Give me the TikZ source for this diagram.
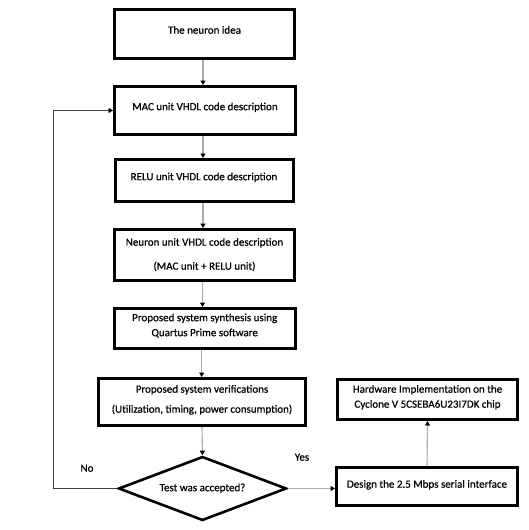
\documentclass[tikz,border=0pt]{standalone}
\usepackage{fontspec}
\setmainfont{Carlito}[FakeBold=0.6]
\usetikzlibrary{shapes.geometric,arrows.meta}
\newcommand{\lifted}[2]{\raisebox{#1}[\height][\depth]{\begin{tabular}{@{}c@{}}#2\end{tabular}}}
\begin{document}
\begin{tikzpicture}[x=1pt,y=-1pt,
  every node/.style={font=\fontsize{11}{13.5}\selectfont, inner sep=0pt, align=center},
  box/.style={draw=black, line width=3pt, rectangle},
  decision/.style={draw=black, line width=2.6pt, diamond, shape aspect=2.6},
  flow/.style={draw=gray!65, line width=1.1pt, -{Triangle[black,length=4.5pt,width=5pt]}},
  back/.style={draw=gray!50!black, line width=0.9pt, -{Triangle[black,length=4.5pt,width=5pt]}},
  lbl/.style={font=\fontsize{11}{13.5}\selectfont}
]
\useasboundingbox (0,0) rectangle (529,530);
\fill[white] (0,0) rectangle (529,530);

\node[box, minimum width=180pt, minimum height=49pt] (n1) at (204.5,34) {\lifted{3pt}{The neuron idea}};
\node[box, minimum width=181pt, minimum height=48pt] (n2) at (205,110.5) {\lifted{3pt}{MAC unit VHDL code description}};
\node[box, minimum width=178pt, minimum height=42pt] (n3) at (204,180.5) {\lifted{3pt}{RELU unit VHDL code description}};
\node[box, minimum width=180pt, minimum height=51pt] (n4) at (204.5,255) {\lifted{0pt}{Neuron unit VHDL code description\\[10.5pt](MAC unit + RELU unit)}};
\node[box, minimum width=181pt, minimum height=40pt] (n5) at (204.7,328.5) {\lifted{2.5pt}{Proposed system synthesis using\\[1.5pt]Quartus Prime software}};
\node[box, minimum width=207pt, minimum height=47pt] (n6) at (202,402) {\lifted{2pt}{Proposed system verifications\\[6.5pt](Utilization, timing, power consumption)}};
\node[decision, minimum width=168pt, minimum height=64pt] (d) at (202.5,488.5) {\lifted{0pt}{Test was accepted?}};
\node[box, minimum width=180pt, minimum height=40pt] (hw) at (427.5,399.5) {\lifted{2pt}{Hardware Implementation on the\\[1.5pt]Cyclone V 5CSEBA6U23I7DK chip}};
\node[box, minimum width=181pt, minimum height=38pt] (ds) at (427,486.5) {\lifted{1.5pt}{Design the 2.5 Mbps serial interface}};

\coordinate (nl) at (53,488.5);
\node[lbl] (no) at (87,469) {\lifted{0pt}{No}};
\node[lbl] (yes) at (302,458) {\lifted{0pt}{Yes}};

\draw[flow] ([xshift=-1.5pt]n1.south) -- ([xshift=-1.5pt]n1.south |- n2.north);
\draw[flow] ([xshift=-2pt]n2.south) -- ([xshift=-2pt]n2.south |- n3.north);
\draw[flow] ([xshift=-1pt]n3.south) -- ([xshift=-1pt]n3.south |- n4.north);
\draw[flow] ([xshift=-2pt]n4.south) -- ([xshift=-2pt]n4.south |- n5.north);
\draw[flow] ([xshift=-3pt]n5.south) -- ([xshift=-3pt]n5.south |- n6.north);
\draw[flow] (n6.south) -- (d.north);
\draw[flow] (d.east) -- (d.east -| ds.west);
\draw[flow] (ds.north) -- (hw.south);
\draw[back] (d.west) -- (nl) |- (n2.west);
\end{tikzpicture}
\end{document}
